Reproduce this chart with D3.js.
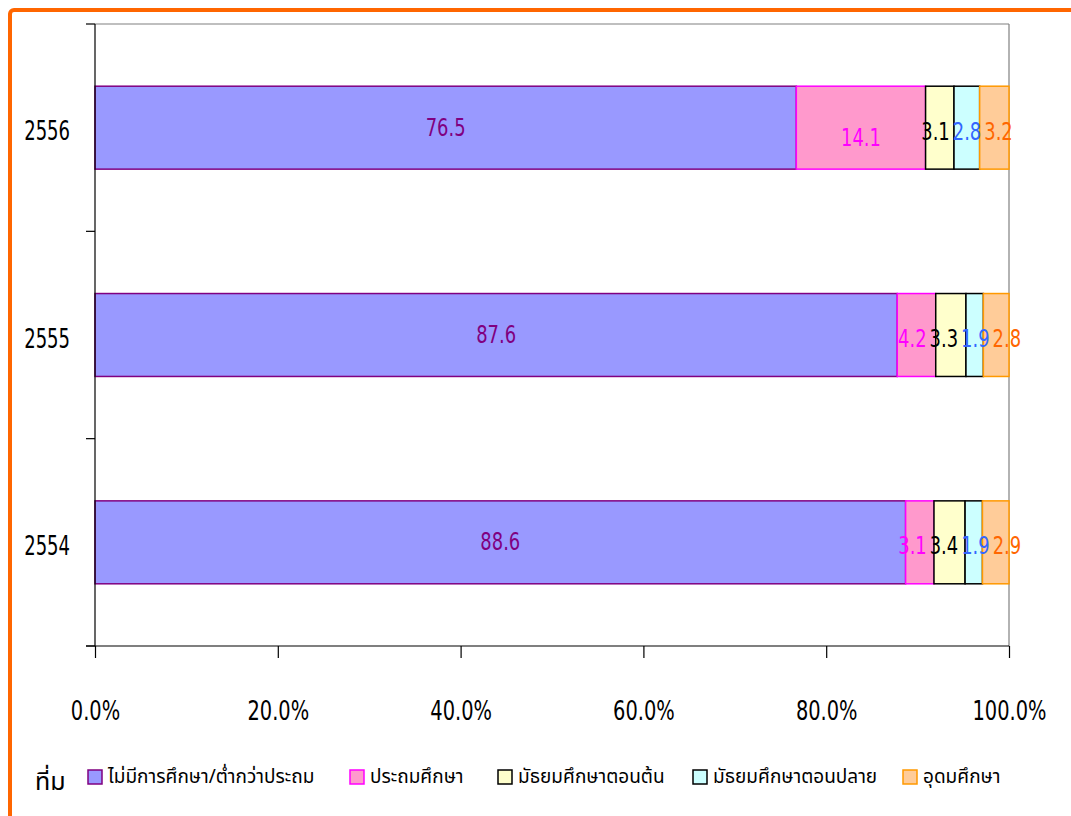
<!DOCTYPE html>
<html><head><meta charset="utf-8">
<script src="https://cdn.jsdelivr.net/npm/d3@7"></script>
<style>
html,body{margin:0;padding:0;background:#fff;}
text{font-family:"DejaVu Sans Condensed","DejaVu Sans",sans-serif;}
.thai{font-family:"Noto Sans Thai","Tahoma","DejaVu Sans Condensed",sans-serif;}
</style></head>
<body>
<svg id="chart" width="1071" height="816"></svg>
<script>
const years = ["2556", "2555", "2554"];
const seriesNames = ["ไม่มีการศึกษา/ต่ำกว่าประถม", "ประถมศึกษา", "มัธยมศึกษาตอนต้น", "มัธยมศึกษาตอนปลาย", "อุดมศึกษา"];
const noEducation = [76.5, 87.6, 88.6];
const primary = [14.1, 4.2, 3.1];
const lowerSecondary = [3.1, 3.3, 3.4];
const upperSecondary = [2.8, 1.9, 1.9];
const higher = [3.2, 2.8, 2.9];
const xTicks = [0, 0.2, 0.4, 0.6, 0.8, 1.0];
const sourceLabel = "ที่ม";

const fills = ["#9999FF", "#FF99CC", "#FFFFCC", "#CCFFFF", "#FFCC99"];
const strokes = ["#800080", "#FF00FF", "#000000", "#000000", "#FF9900"];
const labelColors = ["#800080", "#FF00FF", "#000000", "#3366FF", "#FF6600"];

const seriesValues = [noEducation, primary, lowerSecondary, upperSecondary, higher];
const rows = years.map((y, i) => {
  const o = {year: y};
  seriesNames.forEach((s, j) => o[s] = seriesValues[j][i]);
  return o;
});

const svg = d3.select("#chart");

// orange frame
svg.append("rect").attr("x", 10).attr("y", 10).attr("width", 1100).attr("height", 900)
  .attr("rx", 4).attr("fill", "none").attr("stroke", "#FF6600").attr("stroke-width", 4);

const L = 95, R = 1009, T = 24, B = 646;
const x = d3.scaleLinear().domain([0, 1]).range([L, R]);
const y = d3.scaleBand().domain(years).range([T, B]).paddingInner(0.6).paddingOuter(0.3);

const stack = d3.stack().keys(seriesNames).offset(d3.stackOffsetExpand);
const stacked = stack(rows);

// plot border top/right (gray)
svg.append("line").attr("x1", L).attr("x2", R).attr("y1", T).attr("y2", T).attr("stroke", "#808080").attr("stroke-width", 1.2);
svg.append("line").attr("x1", R).attr("x2", R).attr("y1", T).attr("y2", B).attr("stroke", "#808080").attr("stroke-width", 1.2);

const g = svg.append("g");
stacked.forEach((layer, j) => {
  g.selectAll(null).data(layer).enter().append("rect")
    .attr("x", d => x(d[0]))
    .attr("y", d => y(d.data.year))
    .attr("width", d => x(d[1]) - x(d[0]))
    .attr("height", y.bandwidth())
    .attr("fill", fills[j]).attr("stroke", strokes[j]).attr("stroke-width", 1.5);
});

// labels with simple horizontal repel per bar
const SX = 0.83;
years.forEach((yr, i) => {
  const labs = stacked.map((layer, j) => {
    const d = layer[i];
    const yy = y(yr) + y.bandwidth() / 2 + (j === 0 ? 0 : (j === 1 && d.data[seriesNames[1]] > 10 ? 10 : 4));
    const t = g.append("text")
      .attr("x", 0).attr("y", 0)
      .attr("text-anchor", "middle").attr("dominant-baseline", "central")
      .attr("font-size", 24).attr("fill", labelColors[j])
      .text(d.data[seriesNames[j]].toFixed(1));
    const w = t.node().getComputedTextLength() * SX;
    return {t, c: (x(d[0]) + x(d[1])) / 2, w, yy};
  });
  const gap = 3;
  for (let it = 0; it < 60; it++) {
    for (let k = 1; k < labs.length; k++) {
      const a = labs[k - 1], b = labs[k];
      const need = (a.w + b.w) / 2 + gap - (b.c - a.c);
      if (need > 0) { a.c -= need / 2; b.c += need / 2; }
    }
  }
  labs.forEach(l => l.t.attr("transform", `translate(${l.c},${l.yy}) scale(${SX},1)`));
});

// y axis
const yTickPos = d3.range(years.length + 1).map(i => T + i * (B - T) / years.length);
svg.append("line").attr("x1", L).attr("x2", L).attr("y1", T).attr("y2", B).attr("stroke", "#000").attr("stroke-width", 1.2);
svg.selectAll(null).data(yTickPos).enter().append("line")
  .attr("x1", L - 9).attr("x2", L).attr("y1", d => d).attr("y2", d => d).attr("stroke", "#000").attr("stroke-width", 1.2);
svg.selectAll(null).data(years).enter().append("text")
  .attr("x", 0).attr("y", 0)
  .attr("transform", d => `translate(70,${y(d) + y.bandwidth() / 2 + 3}) scale(0.77,1)`)
  .attr("text-anchor", "end").attr("dominant-baseline", "central")
  .attr("font-size", 26).attr("fill", "#000").text(d => d);

// x axis
const xAxis = d3.axisBottom(x).tickValues(xTicks).tickSize(12).tickPadding(44).tickFormat(d3.format(".1%"));
const xg = svg.append("g").attr("transform", `translate(0,${B})`).call(xAxis);
xg.select(".domain").remove();
xg.selectAll(".tick line").attr("stroke", "#000").attr("stroke-width", 1.2);
xg.selectAll(".tick text").attr("font-size", 26).attr("fill", "#000")
  .attr("transform", "scale(0.83,1)")
  .style("font-family", "'DejaVu Sans Condensed','DejaVu Sans',sans-serif");
svg.append("line").attr("x1", L - 9).attr("x2", R).attr("y1", B).attr("y2", B).attr("stroke", "#000").attr("stroke-width", 1.2);

// legend
svg.append("text").attr("class", "thai").attr("x", 35).attr("y", 790).attr("font-size", 25).attr("fill", "#000").text(sourceLabel);
const legX = [88, 350, 498, 693, 903];
const leg = svg.selectAll(null).data(seriesNames).enter().append("g")
  .attr("transform", (d, i) => `translate(${legX[i]},770)`);
leg.append("rect").attr("x", 0).attr("y", 0).attr("width", 14).attr("height", 14)
  .attr("fill", (d, i) => fills[i]).attr("stroke", (d, i) => strokes[i]).attr("stroke-width", 1.5);
leg.append("text").attr("class", "thai").attr("x", 20).attr("y", 7).attr("dominant-baseline", "central")
  .attr("font-size", 19).attr("fill", "#000").text(d => d);
</script>
</body></html>
